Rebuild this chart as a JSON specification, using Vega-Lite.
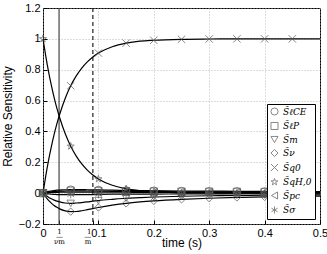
{
  "$schema": "https://vega.github.io/schema/vega-lite/v6.json",
  "width": 277,
  "height": 216,
  "autosize": {"type": "none"},
  "padding": {"left": 43, "top": 8, "right": 7, "bottom": 30},
  "config": {
    "font": "Liberation Sans",
    "view": {"stroke": "black", "strokeWidth": 1},
    "axis": {
      "labelFontSize": 11,
      "labelColor": "black",
      "titleFontSize": 12,
      "titleFontWeight": "normal",
      "titleColor": "black",
      "domain": false,
      "tickColor": "black",
      "tickSize": -4,
      "labelPadding": 7,
      "labelOverlap": false,
      "grid": true,
      "gridColor": "#aaaaaa",
      "gridDash": [1, 2],
      "gridWidth": 0.8
    }
  },
  "datasets": {
    "curves": [
      {"t": 0, "lCE": 0, "lP": 0, "m": 0, "nu": 0, "q0": 0, "qH0": 1, "pc": 0, "sig": 0},
      {"t": 0.005, "lCE": 0.006, "lP": 0.004, "m": -0.014, "nu": -0.025, "q0": 0.112, "qH0": 0.888, "pc": 0.002, "sig": -0.003},
      {"t": 0.01, "lCE": 0.011, "lP": 0.007, "m": -0.026, "nu": -0.047, "q0": 0.212, "qH0": 0.788, "pc": 0.003, "sig": -0.005},
      {"t": 0.015, "lCE": 0.014, "lP": 0.009, "m": -0.036, "nu": -0.065, "q0": 0.3, "qH0": 0.7, "pc": 0.004, "sig": -0.007},
      {"t": 0.02, "lCE": 0.017, "lP": 0.011, "m": -0.045, "nu": -0.08, "q0": 0.379, "qH0": 0.621, "pc": 0.005, "sig": -0.008},
      {"t": 0.025, "lCE": 0.019, "lP": 0.012, "m": -0.052, "nu": -0.092, "q0": 0.449, "qH0": 0.551, "pc": 0.005, "sig": -0.009},
      {"t": 0.03, "lCE": 0.02, "lP": 0.013, "m": -0.057, "nu": -0.102, "q0": 0.51, "qH0": 0.49, "pc": 0.006, "sig": -0.009},
      {"t": 0.04, "lCE": 0.022, "lP": 0.014, "m": -0.064, "nu": -0.115, "q0": 0.614, "qH0": 0.386, "pc": 0.006, "sig": -0.01},
      {"t": 0.05, "lCE": 0.023, "lP": 0.015, "m": -0.066, "nu": -0.12, "q0": 0.696, "qH0": 0.304, "pc": 0.006, "sig": -0.01},
      {"t": 0.06, "lCE": 0.023, "lP": 0.015, "m": -0.064, "nu": -0.119, "q0": 0.76, "qH0": 0.24, "pc": 0.006, "sig": -0.01},
      {"t": 0.07, "lCE": 0.023, "lP": 0.015, "m": -0.061, "nu": -0.114, "q0": 0.811, "qH0": 0.189, "pc": 0.006, "sig": -0.01},
      {"t": 0.08, "lCE": 0.022, "lP": 0.014, "m": -0.057, "nu": -0.107, "q0": 0.851, "qH0": 0.149, "pc": 0.006, "sig": -0.009},
      {"t": 0.09, "lCE": 0.021, "lP": 0.014, "m": -0.052, "nu": -0.1, "q0": 0.883, "qH0": 0.117, "pc": 0.006, "sig": -0.009},
      {"t": 0.1, "lCE": 0.021, "lP": 0.013, "m": -0.048, "nu": -0.093, "q0": 0.908, "qH0": 0.092, "pc": 0.006, "sig": -0.008},
      {"t": 0.125, "lCE": 0.019, "lP": 0.012, "m": -0.04, "nu": -0.078, "q0": 0.949, "qH0": 0.051, "pc": 0.006, "sig": -0.007},
      {"t": 0.15, "lCE": 0.018, "lP": 0.011, "m": -0.033, "nu": -0.066, "q0": 0.972, "qH0": 0.028, "pc": 0.006, "sig": -0.007},
      {"t": 0.175, "lCE": 0.017, "lP": 0.011, "m": -0.029, "nu": -0.057, "q0": 0.985, "qH0": 0.016, "pc": 0.005, "sig": -0.006},
      {"t": 0.2, "lCE": 0.016, "lP": 0.01, "m": -0.025, "nu": -0.05, "q0": 0.991, "qH0": 0.009, "pc": 0.005, "sig": -0.006},
      {"t": 0.25, "lCE": 0.014, "lP": 0.009, "m": -0.02, "nu": -0.04, "q0": 0.997, "qH0": 0.003, "pc": 0.005, "sig": -0.005},
      {"t": 0.3, "lCE": 0.013, "lP": 0.008, "m": -0.017, "nu": -0.033, "q0": 0.999, "qH0": 0.001, "pc": 0.005, "sig": -0.005},
      {"t": 0.35, "lCE": 0.012, "lP": 0.008, "m": -0.015, "nu": -0.028, "q0": 1, "qH0": 0, "pc": 0.005, "sig": -0.004},
      {"t": 0.4, "lCE": 0.011, "lP": 0.007, "m": -0.013, "nu": -0.024, "q0": 1, "qH0": 0, "pc": 0.005, "sig": -0.004},
      {"t": 0.45, "lCE": 0.011, "lP": 0.007, "m": -0.012, "nu": -0.021, "q0": 1, "qH0": 0, "pc": 0.005, "sig": -0.004},
      {"t": 0.5, "lCE": 0.01, "lP": 0.007, "m": -0.011, "nu": -0.019, "q0": 1, "qH0": 0, "pc": 0.005, "sig": -0.004}
    ],
    "refs": [
      {"t": 0.029, "k": "solid"},
      {"t": 0.09, "k": "dashed"}
    ]
  },
  "layer": [
    {
      "data": {"name": "refs"},
      "transform": [{"filter": "datum.k == 'solid'"}],
      "mark": {"type": "rule", "color": "#444444", "strokeWidth": 1.2},
      "encoding": {"x": {"field": "t", "type": "quantitative"}}
    },
    {
      "data": {"name": "refs"},
      "transform": [{"filter": "datum.k == 'dashed'"}],
      "mark": {"type": "rule", "color": "#222222", "strokeWidth": 1.2, "strokeDash": [4, 3]},
      "encoding": {"x": {"field": "t", "type": "quantitative"}}
    },
    {
      "data": {"name": "curves"},
      "transform": [{"fold": ["lCE", "lP", "m", "nu", "q0", "qH0", "pc", "sig"], "as": ["s", "v"]}],
      "mark": {"type": "line", "color": "black", "strokeWidth": 1.2, "interpolate": "monotone"},
      "encoding": {
        "x": {"field": "t", "type": "quantitative", "scale": {"domain": [0, 0.5], "nice": false},
              "axis": {
                "values": [0, 0.029, 0.09, 0.1, 0.2, 0.3, 0.4, 0.5],
                "tickCount": 30,
                "format": "~g",
                "labelOverlap": false,
                "labelExpr": "datum.value == 0.029 ? ['1', '—', 'νm'] : datum.value == 0.09 ? ['1', '—', 'm'] : datum.label",
                "labelFontSize": {"condition": {"test": "datum.value == 0.029 || datum.value == 0.09", "value": 7}, "value": 11},
                "labelFont": {"condition": {"test": "datum.value == 0.029 || datum.value == 0.09", "value": "DejaVu Serif"}, "value": "Liberation Sans"},
                "labelAlign": {"condition": {"test": "datum.value == 0.09", "value": "right"}, "value": "center"},
                "labelOffset": {"condition": {"test": "datum.value == 0.09", "value": -2}, "value": 0},
                "labelLineHeight": 5,
                "gridOpacity": {"condition": {"test": "datum.value == 0.029 || datum.value == 0.09", "value": 0}, "value": 1},
                "title": "time (s)",
                "titleY": 13,
                "titleBaseline": "top"
              }},
        "y": {"field": "v", "type": "quantitative", "scale": {"domain": [-0.2, 1.2], "nice": false, "zero": false},
              "axis": {"values": [-0.2, 0, 0.2, 0.4, 0.6, 0.8, 1, 1.2], "tickCount": 30, "format": "~g", "labelOverlap": false, "title": "Relative Sensitivity", "titlePadding": 4}},
        "detail": {"field": "s"}
      }
    },
    {
      "data": {"name": "curves"},
      "transform": [
        {"fold": ["lCE", "lP", "m", "nu", "q0", "qH0", "pc", "sig"], "as": ["s", "v"]},
        {"filter": "abs(datum.t * 20 - round(datum.t * 20)) < 0.000001 && datum.t < 0.49"}
      ],
      "mark": {"type": "point", "filled": false, "color": "#555555", "strokeWidth": 1, "size": 55},
      "encoding": {
        "x": {"field": "t", "type": "quantitative"},
        "y": {"field": "v", "type": "quantitative"},
        "shape": {
          "field": "s",
          "type": "nominal",
          "scale": {
            "domain": ["lCE", "lP", "m", "nu", "q0", "qH0", "pc", "sig"],
            "range": ["circle", "square", "triangle-down", "diamond",
                      "M-1,-1L1,1M-1,1L1,-1",
                      "M0,-1L0.223,-0.307L0.951,-0.309L0.361,0.117L0.588,0.809L0,0.38L-0.588,0.809L-0.361,0.117L-0.951,-0.309L-0.223,-0.307Z",
                      "triangle-left",
                      "M0,-1L0,1M-0.866,-0.5L0.866,0.5M-0.866,0.5L0.866,-0.5"]
          },
          "legend": {
            "title": null,
            "orient": "bottom-right",
            "offset": 5,
            "fillColor": "white",
            "strokeColor": "black",
            "padding": 3,
            "rowPadding": 1.5,
            "labelFont": "DejaVu Serif",
            "labelFontStyle": "italic",
            "labelFontSize": 9,
            "labelOffset": 4,
            "labelColor": "black",
            "symbolSize": 50,
            "symbolStrokeColor": "#555555",
            "symbolFillColor": "transparent",
            "symbolStrokeWidth": 1,
            "labelExpr": "['S̃ℓCE','S̃ℓP','S̃m','S̃ν','S̃q0','S̃qH,0','S̃pc','S̃σ'][indexof(['lCE','lP','m','nu','q0','qH0','pc','sig'], datum.label)]"
          }
        }
      }
    }
  ]
}
